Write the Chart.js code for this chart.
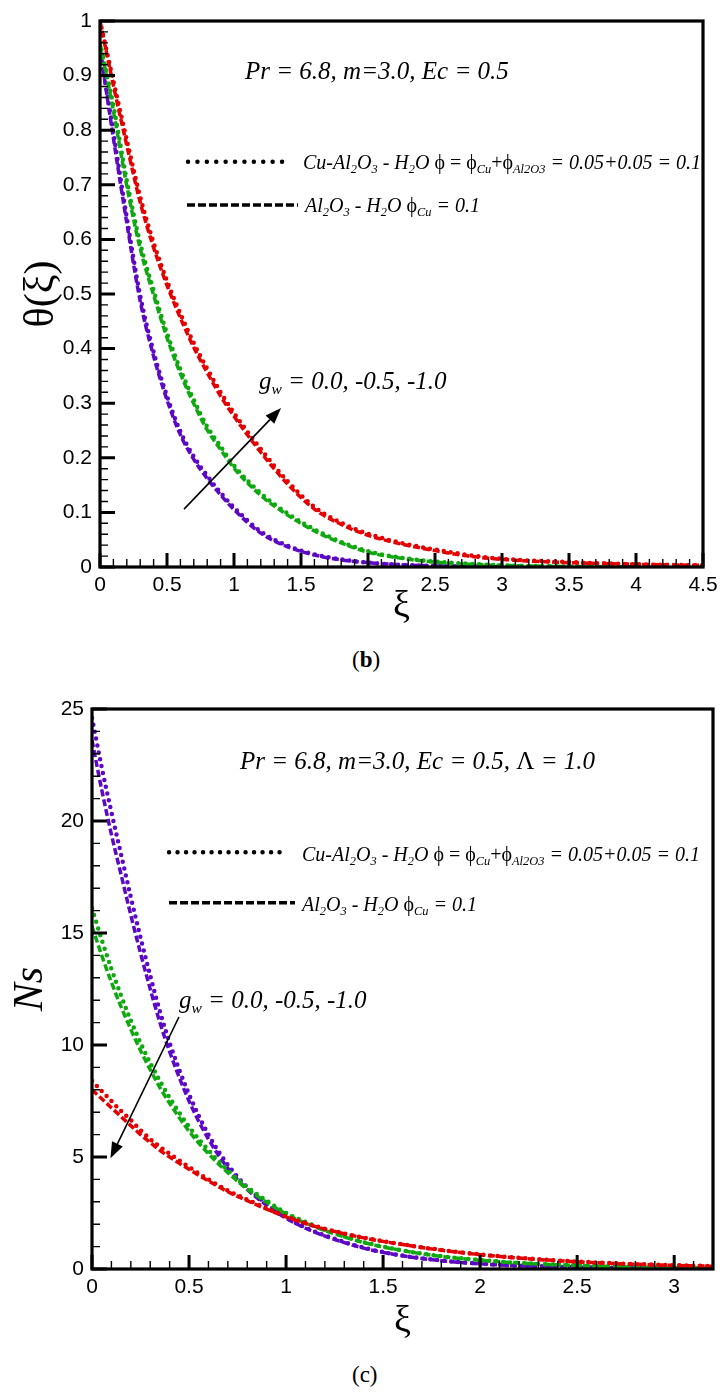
<!DOCTYPE html>
<html>
<head>
<meta charset="utf-8">
<title>Temperature and entropy profiles</title>
<script src="https://cdn.jsdelivr.net/npm/chart.js"></script>
<style>
  body { margin: 0; background: #fff; }
  #page { position: relative; width: 727px; height: 1400px; overflow: hidden; }
  canvas { position: absolute; left: 0; }
  .note { position: absolute; white-space: nowrap; font-family: "Liberation Serif", serif; font-style: italic; color: #000; line-height: 1; }
  .note sub { font-size: 62%; vertical-align: -0.3em; line-height: 0; }
  .up { font-style: normal; }
  .cap { position: absolute; font-family: "Liberation Serif", serif; font-size: 23px; line-height: 1; }
</style>
</head>
<body>
<div id="page">
  <canvas id="theta" width="727" height="640" style="top:0"></canvas>
  <canvas id="ns" width="727" height="680" style="top:680px"></canvas>

  <!-- (b) annotations -->
  <div class="note" style="left:245px;top:58px;font-size:25px">Pr = 6.8, m=3.0, Ec = 0.5</div>
  <div class="note" style="left:303px;top:152px;font-size:20px">Cu-Al<sub>2</sub>O<sub>3</sub> - H<sub>2</sub>O <span class="up">ϕ = ϕ</span><sub>Cu</sub><span class="up">+ϕ</span><sub>Al2O3</sub> = 0.05+0.05 = 0.1</div>
  <div class="note" style="left:305px;top:195px;font-size:20px">Al<sub>2</sub>O<sub>3</sub> - H<sub>2</sub>O <span class="up">ϕ</span><sub>Cu</sub> = 0.1</div>
  <div class="note" style="left:259px;top:368px;font-size:25px">g<sub>w</sub> = 0.0, -0.5, -1.0</div>
  <div class="cap" style="left:352px;top:648px">(<b>b</b>)</div>

  <!-- (c) annotations -->
  <div class="note" style="left:240px;top:748px;font-size:25px">Pr = 6.8, m=3.0, Ec = 0.5, <span class="up">Λ</span> = 1.0</div>
  <div class="note" style="left:302px;top:844px;font-size:20px">Cu-Al<sub>2</sub>O<sub>3</sub> - H<sub>2</sub>O <span class="up">ϕ = ϕ</span><sub>Cu</sub><span class="up">+ϕ</span><sub>Al2O3</sub> = 0.05+0.05 = 0.1</div>
  <div class="note" style="left:302px;top:894px;font-size:20px">Al<sub>2</sub>O<sub>3</sub> - H<sub>2</sub>O <span class="up">ϕ</span><sub>Cu</sub> = 0.1</div>
  <div class="note" style="left:179px;top:987px;font-size:25px">g<sub>w</sub> = 0.0, -0.5, -1.0</div>
  <div class="cap" style="left:352px;top:1363px">(c)</div>
</div>

<script>
// ---- (b) temperature profile theta(xi) ----
const thetaX = [0, 0.1, 0.2, 0.3, 0.4, 0.5, 0.6, 0.7, 0.8, 0.9, 1.0, 1.2, 1.4, 1.6, 1.8, 2.0, 2.25, 2.5, 2.75, 3.0, 3.5, 4.0, 4.5];
// gw = -1.0 (red)
const thetaRedDash = [1.0, 0.882, 0.772, 0.668, 0.585, 0.516, 0.456, 0.402, 0.356, 0.313, 0.276, 0.210, 0.152, 0.106, 0.078, 0.058, 0.042, 0.030, 0.020, 0.014, 0.008, 0.005, 0.003];
const thetaRedDot  = [1.0, 0.890, 0.782, 0.678, 0.594, 0.524, 0.464, 0.410, 0.363, 0.320, 0.282, 0.216, 0.157, 0.110, 0.081, 0.061, 0.044, 0.032, 0.022, 0.015, 0.009, 0.005, 0.003];
// gw = -0.5 (green)
const thetaGreenDash = [0.96, 0.835, 0.698, 0.583, 0.498, 0.420, 0.354, 0.299, 0.251, 0.215, 0.181, 0.131, 0.095, 0.066, 0.044, 0.027, 0.016, 0.009, 0.005, 0.003, 0.001, 0.0005];
const thetaGreenDot  = [0.96, 0.845, 0.708, 0.593, 0.507, 0.428, 0.362, 0.306, 0.257, 0.221, 0.186, 0.135, 0.098, 0.069, 0.046, 0.029, 0.017, 0.010, 0.006, 0.003, 0.001, 0.0005];
// gw = 0.0 (purple)
const thetaPurpleDash = [0.95, 0.785, 0.630, 0.487, 0.386, 0.306, 0.242, 0.197, 0.162, 0.132, 0.105, 0.062, 0.037, 0.022, 0.013, 0.008, 0.004, 0.002, 0.001, 0];
const thetaPurpleDot  = [0.95, 0.795, 0.640, 0.497, 0.394, 0.313, 0.248, 0.202, 0.167, 0.136, 0.109, 0.065, 0.039, 0.023, 0.014, 0.008, 0.004, 0.002, 0.001, 0];

const thetaXTicks = [0, 0.5, 1, 1.5, 2, 2.5, 3, 3.5, 4, 4.5];
const thetaXLabels = ['0', '0.5', '1', '1.5', '2', '2.5', '3', '3.5', '4', '4.5'];
const thetaYTicks = [0, 0.1, 0.2, 0.3, 0.4, 0.5, 0.6, 0.7, 0.8, 0.9, 1];
const thetaYLabels = ['0', '0.1', '0.2', '0.3', '0.4', '0.5', '0.6', '0.7', '0.8', '0.9', '1'];

// ---- (c) entropy generation Ns ----
const nsX = [0, 0.05, 0.1, 0.15, 0.2, 0.25, 0.3, 0.35, 0.4, 0.5, 0.6, 0.7, 0.8, 0.9, 1.0, 1.1, 1.2, 1.4, 1.6, 1.8, 2.0, 2.2, 2.4, 2.6, 2.8, 3.0, 3.2];
const nsPurpleDot  = [24.6, 22.4, 20.4, 18.5, 16.6, 14.8, 13.1, 11.5, 10.1, 7.8, 6.0, 4.65, 3.65, 2.9, 2.3, 1.85, 1.5, 0.95, 0.6, 0.38, 0.24, 0.15, 0.1, 0.06, 0.04, 0.025, 0.015];
const nsPurpleDash = [23.6, 21.4, 19.4, 17.6, 15.8, 14.1, 12.5, 11.0, 9.7, 7.5, 5.8, 4.5, 3.55, 2.85, 2.27, 1.82, 1.47, 0.93, 0.59, 0.37, 0.23, 0.15, 0.09, 0.06, 0.04, 0.025, 0.015];
const nsGreenDot   = [16.1, 14.7, 13.4, 12.2, 11.1, 10.1, 9.2, 8.4, 7.65, 6.35, 5.3, 4.4, 3.65, 3.05, 2.5, 2.1, 1.75, 1.2, 0.83, 0.57, 0.4, 0.27, 0.19, 0.13, 0.09, 0.06, 0.04];
const nsGreenDash  = [15.3, 14.0, 12.8, 11.7, 10.7, 9.75, 8.9, 8.1, 7.4, 6.15, 5.15, 4.3, 3.57, 2.98, 2.45, 2.05, 1.72, 1.18, 0.82, 0.56, 0.39, 0.27, 0.19, 0.13, 0.09, 0.06, 0.04];
const nsRedDot     = [8.4, 7.95, 7.5, 7.05, 6.65, 6.2, 5.8, 5.45, 5.15, 4.55, 4.0, 3.5, 3.1, 2.7, 2.35, 2.05, 1.8, 1.4, 1.1, 0.85, 0.65, 0.5, 0.38, 0.29, 0.22, 0.17, 0.13];
const nsRedDash    = [8.0, 7.6, 7.2, 6.8, 6.4, 6.0, 5.65, 5.3, 5.0, 4.45, 3.93, 3.45, 3.05, 2.67, 2.33, 2.03, 1.78, 1.39, 1.09, 0.84, 0.64, 0.49, 0.37, 0.28, 0.21, 0.16, 0.12];

const nsXTicks = [0, 0.5, 1, 1.5, 2, 2.5, 3];
const nsXLabels = ['0', '0.5', '1', '1.5', '2', '2.5', '3'];
const nsYTicks = [0, 5, 10, 15, 20, 25];
const nsYLabels = ['0', '5', '10', '15', '20', '25'];

const RED = 'rgb(228,0,0)';
const GREEN = 'rgb(16,168,16)';
const PURPLE = 'rgb(92,8,196)';

function pts(xs, ys) {
  return ys.map((y, i) => ({ x: xs[i], y: y }));
}

function line(xs, ys, color, dotted) {
  return {
    data: pts(xs, ys),
    borderColor: color,
    borderWidth: dotted ? 4.5 : 3.5,
    borderDash: dotted ? [0, 7] : [7, 3],
    borderCapStyle: dotted ? 'round' : 'butt',
    pointRadius: 0,
    cubicInterpolationMode: 'monotone',
    fill: false
  };
}

function steps(from, to, step) {
  const out = [];
  for (let v = from; v <= to + 1e-9; v += step) out.push(+v.toFixed(4));
  return out;
}

// frame, inward ticks, legend samples and arrow
const framePlugin = {
  id: 'frame',
  afterDatasetsDraw(chart, args, o) {
    const { ctx, chartArea: a, scales: { x, y } } = chart;
    ctx.save();
    ctx.strokeStyle = '#000';
    ctx.lineCap = 'butt';

    ctx.lineWidth = 1.4;
    ctx.beginPath();
    o.xMinor.forEach(v => { const p = x.getPixelForValue(v); ctx.moveTo(p, a.bottom); ctx.lineTo(p, a.bottom - 8); });
    o.yMinor.forEach(v => { const p = y.getPixelForValue(v); ctx.moveTo(a.left, p); ctx.lineTo(a.left + 8, p); });
    ctx.stroke();

    ctx.lineWidth = 3;
    ctx.beginPath();
    o.xMajor.forEach(v => { const p = x.getPixelForValue(v); ctx.moveTo(p, a.bottom); ctx.lineTo(p, a.bottom - 14); });
    o.yMajor.forEach(v => { const p = y.getPixelForValue(v); ctx.moveTo(a.left, p); ctx.lineTo(a.left + 15, p); });
    ctx.stroke();

    ctx.lineWidth = 3.2;
    ctx.strokeRect(a.left, a.top, a.width, a.height);

    // legend samples
    const dot = o.dotKey, dash = o.dashKey;
    ctx.lineWidth = 4.5;
    ctx.lineCap = 'round';
    ctx.setLineDash([0, dot.gap]);
    ctx.beginPath();
    ctx.moveTo(x.getPixelForValue(dot.x0), y.getPixelForValue(dot.y));
    ctx.lineTo(x.getPixelForValue(dot.x1), y.getPixelForValue(dot.y));
    ctx.stroke();
    ctx.lineWidth = 3.5;
    ctx.lineCap = 'butt';
    ctx.setLineDash([8, 3]);
    ctx.beginPath();
    ctx.moveTo(x.getPixelForValue(dash.x0), y.getPixelForValue(dash.y));
    ctx.lineTo(x.getPixelForValue(dash.x1), y.getPixelForValue(dash.y));
    ctx.stroke();
    ctx.setLineDash([]);

    // arrow
    const ar = o.arrow;
    const x0 = x.getPixelForValue(ar.x0), y0 = y.getPixelForValue(ar.y0);
    const x1 = x.getPixelForValue(ar.x1), y1 = y.getPixelForValue(ar.y1);
    const ang = Math.atan2(y1 - y0, x1 - x0);
    const hl = 16, hw = 6;
    ctx.lineWidth = 1.6;
    ctx.beginPath();
    ctx.moveTo(x0, y0);
    ctx.lineTo(x1 - hl * Math.cos(ang), y1 - hl * Math.sin(ang));
    ctx.stroke();
    ctx.fillStyle = '#000';
    ctx.beginPath();
    ctx.moveTo(x1, y1);
    ctx.lineTo(x1 - hl * Math.cos(ang) + hw * Math.sin(ang), y1 - hl * Math.sin(ang) - hw * Math.cos(ang));
    ctx.lineTo(x1 - hl * Math.cos(ang) - hw * Math.sin(ang), y1 - hl * Math.sin(ang) + hw * Math.cos(ang));
    ctx.closePath();
    ctx.fill();
    ctx.restore();
  }
};

const tickFont = { family: 'Liberation Sans', size: 21 };

function makeChart(id, cfg) {
  return new Chart(document.getElementById(id), {
    type: 'line',
    data: { datasets: cfg.datasets },
    options: {
      responsive: false,
      animation: false,
      layout: { padding: cfg.padding },
      plugins: { legend: { display: false }, tooltip: { enabled: false }, frame: cfg.frame },
      scales: {
        x: {
          type: 'linear', min: cfg.xMin, max: cfg.xMax,
          grid: { display: false, drawTicks: false },
          border: { display: false },
          afterBuildTicks: s => { s.ticks = cfg.xTicks.map(v => ({ value: v })); },
          afterFit: s => { s.height = cfg.xHeight; },
          ticks: { autoSkip: false, maxRotation: 0, padding: 6, color: '#000', font: tickFont,
                   callback: (v, i) => cfg.xLabels[i] },
          title: { display: true, text: 'ξ', color: '#000',
                   font: { family: 'Liberation Serif', size: 38, lineHeight: 1 }, padding: { top: 0, bottom: cfg.xTitlePad } }
        },
        y: {
          type: 'linear', min: cfg.yMin, max: cfg.yMax,
          grid: { display: false, drawTicks: false },
          border: { display: false },
          afterBuildTicks: s => { s.ticks = cfg.yTicks.map(v => ({ value: v })); },
          afterFit: s => { s.width = cfg.yWidth; },
          ticks: { autoSkip: false, padding: 8, color: '#000', font: tickFont,
                   callback: (v, i) => cfg.yLabels[i] },
          title: { display: true, text: cfg.yTitle, color: '#000',
                   font: cfg.yTitleFont, padding: { top: cfg.yTitlePad, bottom: 0 } }
        }
      }
    },
    plugins: [framePlugin]
  });
}

makeChart('theta', {
  datasets: [
    line(thetaX, thetaRedDash, RED, false),
    line(thetaX, thetaRedDot, RED, true),
    line(thetaX, thetaGreenDash, GREEN, false),
    line(thetaX, thetaGreenDot, GREEN, true),
    line(thetaX, thetaPurpleDash, PURPLE, false),
    line(thetaX, thetaPurpleDot, PURPLE, true)
  ],
  padding: { top: 21, right: 24, left: 0, bottom: 0 },
  xMin: 0, xMax: 4.5, yMin: 0, yMax: 1,
  xTicks: thetaXTicks, xLabels: thetaXLabels, yTicks: thetaYTicks, yLabels: thetaYLabels,
  xHeight: 73, yWidth: 100, xTitlePad: 14,
  yTitle: 'θ(ξ)', yTitleFont: { family: 'Liberation Serif', size: 42, lineHeight: 1 }, yTitlePad: 21,
  frame: {
    xMajor: thetaXTicks, xMinor: steps(0, 4.5, 0.1),
    yMajor: thetaYTicks, yMinor: steps(0, 1, 0.02),
    dotKey: { x0: 0.657, x1: 1.425, y: 0.742, gap: 9.4 },
    dashKey: { x0: 0.649, x1: 1.478, y: 0.663 },
    arrow: { x0: 0.627, y0: 0.106, x1: 1.351, y1: 0.291 }
  }
});

makeChart('ns', {
  datasets: [
    line(nsX, nsRedDash, RED, false),
    line(nsX, nsRedDot, RED, true),
    line(nsX, nsGreenDash, GREEN, false),
    line(nsX, nsGreenDot, GREEN, true),
    line(nsX, nsPurpleDash, PURPLE, false),
    line(nsX, nsPurpleDot, PURPLE, true)
  ],
  padding: { top: 29, right: 14, left: 0, bottom: 0 },
  xMin: 0, xMax: 3.2, yMin: 0, yMax: 25,
  xTicks: nsXTicks, xLabels: nsXLabels, yTicks: nsYTicks, yLabels: nsYLabels,
  xHeight: 91, yWidth: 92, xTitlePad: 19,
  yTitle: 'Ns', yTitleFont: { family: 'Liberation Serif', size: 42, style: 'italic', lineHeight: 1 }, yTitlePad: 10,
  frame: {
    xMajor: nsXTicks, xMinor: steps(0, 3.2, 0.1),
    yMajor: nsYTicks, yMinor: steps(0, 25, 1),
    dotKey: { x0: 0.397, x1: 0.969, y: 18.6, gap: 8.5 },
    dashKey: { x0: 0.397, x1: 1.046, y: 16.35 },
    arrow: { x0: 0.448, y0: 11.25, x1: 0.095, y1: 4.94 }
  }
});
</script>
</body>
</html>
